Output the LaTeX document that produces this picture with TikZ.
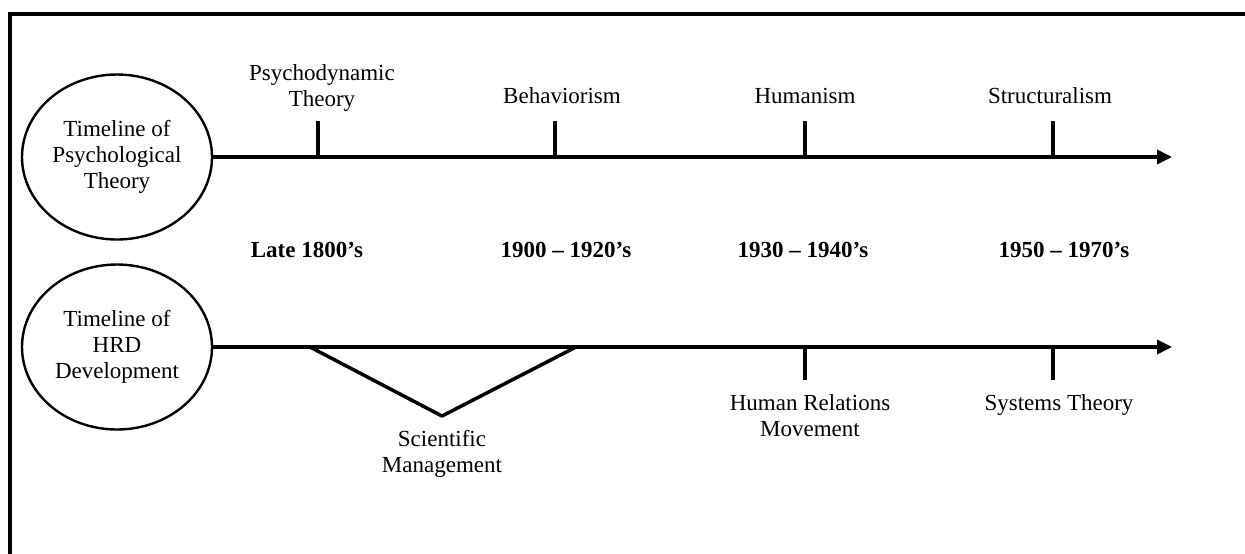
\documentclass[tikz,border=0pt]{standalone}
\usepackage{fontspec}
\setmainfont{Liberation Serif}
\usetikzlibrary{arrows.meta,positioning,shapes.geometric}

\begin{document}
\begin{tikzpicture}[x=0.5pt,y=-0.5pt,every node/.append style={align=center,inner sep=0pt,font=\fontsize{11.5}{13}\selectfont},
    circ/.style={draw,ellipse,line width=1.2pt,minimum width=95pt,minimum height=82.5pt},
    axis/.style={line width=1.75pt,-{Triangle[length=7.5pt,width=7pt]}},
    tick/.style={line width=1.75pt},
    lbl/.style={anchor=base},
    yr/.style={anchor=base,font=\fontsize{11.5}{13}\selectfont\bfseries}]
    \useasboundingbox (0,0) rectangle (1245,553);
    \draw[line width=1.75pt] (10,600) -- (10,14) -- (1300,14);

    \node [circ] (psy) at (117,157) {Timeline of\\Psychological\\Theory};
    \node [circ] (hrd) at (117,347) {Timeline of\\HRD\\Development};
    \coordinate (psyEnd) at (1172,157);
    \coordinate (hrdEnd) at (1172,347);
    \draw[axis] (psy) -- (psyEnd);
    \draw[axis] (hrd) -- (hrdEnd);

    % ticks
    \foreach \x/\n in {318/a,555/b,805/c,1053/d}
        {\coordinate (up\n) at (\x,157); \draw[tick] (up\n) -- ++(0,-36);}
    \foreach \x/\n in {805/c,1053/d}
        {\coordinate (dn\n) at (\x,347); \draw[tick] (dn\n) -- ++(0,33);}
    \coordinate (smL) at (310,347);
    \coordinate (smB) at (442,416);
    \coordinate (smR) at (576,347);
    \draw[tick,line join=round] (smL) -- (smB) -- (smR);

    % base anchor = last line
    \node [lbl] (psyDyn) at (322,106) {Psychodynamic\\Theory};
    \node [lbl] (behav) at (562,103) {Behaviorism};
    \node [lbl] (human) at (805,103) {Humanism};
    \node [lbl] (struct) at (1050,103) {Structuralism};

    \node [yr] (late) at (307,257) {Late 1800’s};
    \node [yr] (early) at (566,257) {1900 – 1920’s};
    \node [yr] (mid) at (803,257) {1930 – 1940’s};
    \node [yr] (post) at (1064,257) {1950 – 1970’s};

    \node [lbl] (sciMan) at (442,472) {Scientific\\Management};
    \node [lbl] (humRel) at (810,436) {Human Relations\\Movement};
    \node [lbl] (sysTh) at (1059,410) {Systems Theory};
\end{tikzpicture}
\end{document}
